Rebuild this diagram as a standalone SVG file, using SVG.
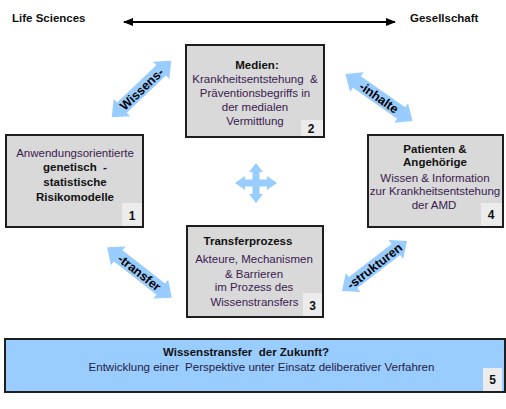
<svg xmlns="http://www.w3.org/2000/svg" width="506" height="409" viewBox="0 0 506 409">
<style>
text{font-family:"Liberation Sans",Arial,sans-serif;}
.box{fill:#d9d9d9;stroke:#1e1e1e;stroke-width:2;}
.box5{fill:#99ccff;stroke:#1e1e1e;stroke-width:2;}
.badge{fill:#ececec;}
.t{font-size:11.5px;font-weight:bold;fill:#111;text-anchor:middle;}
.b{font-size:11.5px;fill:#3a2050;text-anchor:middle;}
.n{font-size:12px;font-weight:bold;fill:#111;text-anchor:middle;}
.arr{fill:#99ccff;}
.al{font-size:12.5px;font-weight:bold;fill:#000;text-anchor:middle;}
.hdr{font-size:11.5px;font-weight:bold;fill:#111;}
</style>
<defs>
<path id="dbl" d="M -41 0 L -27 -12 L -27 -7 L 27 -7 L 27 -12 L 41 0 L 27 12 L 27 7 L -27 7 L -27 12 Z"/>
<marker id="ah" viewBox="0 0 10 8" refX="9" refY="4" markerWidth="5" markerHeight="4" orient="auto-start-reverse" markerUnits="strokeWidth">
<path d="M0 0 L10 4 L0 8 Z" fill="#000"/>
</marker>
</defs>

<g id="header">
<text class="hdr" x="12" y="22">Life Sciences</text>
<text class="hdr" x="410" y="22">Gesellschaft</text>
</g>

<g id="connectors">
<line x1="124" y1="22" x2="395" y2="22" stroke="#000" stroke-width="2" marker-start="url(#ah)" marker-end="url(#ah)"/>
<g transform="translate(141.5,89) rotate(-43.5)">
<use href="#dbl" class="arr"/>
<text class="al" x="0" y="4.5">Wissens-</text>
</g>
<g transform="translate(379,97.5) rotate(35)">
<use href="#dbl" class="arr"/>
<text class="al" x="0" y="4.5">-inhalte</text>
</g>
<g transform="translate(139.5,272.5) rotate(38)">
<use href="#dbl" class="arr"/>
<text class="al" x="0" y="4.5">-transfer</text>
</g>
<g transform="translate(374.5,266) rotate(-37.6)">
<use href="#dbl" class="arr"/>
<text class="al" x="0" y="4.5">-strukturen</text>
</g>
<path class="arr" transform="translate(256,183)" d="M 0 -20 L 7 -11 L 3.5 -11 L 3.5 -3.5 L 11 -3.5 L 11 -7 L 21 0 L 11 7 L 11 3.5 L 3.5 3.5 L 3.5 11 L 7 11 L 0 20 L -7 11 L -3.5 11 L -3.5 3.5 L -11 3.5 L -11 7 L -21 0 L -11 -7 L -11 -3.5 L -3.5 -3.5 L -3.5 -11 L -7 -11 Z"/>
</g>

<g id="node1">
<rect class="box" x="6" y="135" width="137" height="92"/>
<rect class="badge" x="122" y="203" width="20" height="23"/>
<text class="b" x="75" y="157">Anwendungsorientierte</text>
<text class="t" x="75" y="171">genetisch &#160;-</text>
<text class="t" x="75" y="186">statistische</text>
<text class="t" x="75" y="200.5">Risikomodelle</text>
<text class="n" x="132" y="220">1</text>
</g>

<g id="node2">
<rect class="box" x="186" y="45" width="138" height="92"/>
<rect class="badge" x="301" y="120" width="22" height="16"/>
<text class="t" x="257" y="68.5">Medien:</text>
<text class="b" x="255" y="82.5">Krankheitsentstehung &#160;&amp;</text>
<text class="b" x="255" y="96.5">Präventionsbegriffs in</text>
<text class="b" x="255" y="110.5">der medialen</text>
<text class="b" x="255" y="124.5">Vermittlung</text>
<text class="n" x="311" y="133">2</text>
</g>

<g id="node3">
<rect class="box" x="187" y="226" width="136" height="91"/>
<rect class="badge" x="303" y="293" width="19" height="23"/>
<text class="t" x="248" y="244.5">Transferprozess</text>
<text class="b" x="254" y="262.5">Akteure, Mechanismen</text>
<text class="b" x="254" y="277.5">&amp; Barrieren</text>
<text class="b" x="254" y="291">im Prozess des</text>
<text class="b" x="254.5" y="305.5">Wissenstransfers</text>
<text class="n" x="312.5" y="310">3</text>
</g>

<g id="node4">
<rect class="box" x="368" y="135" width="135" height="92"/>
<rect class="badge" x="481" y="203" width="21" height="23"/>
<text class="t" x="435" y="152.5">Patienten &amp;</text>
<text class="t" x="435" y="165.5">Angehörige</text>
<text class="b" x="435" y="181.5">Wissen &amp; Information</text>
<text class="b" x="435" y="195">zur Krankheitsentstehung</text>
<text class="b" x="434" y="209">der AMD</text>
<text class="n" x="491" y="219">4</text>
</g>

<g id="node5">
<rect class="box5" x="5" y="339" width="500" height="53"/>
<rect class="badge" x="483" y="368" width="19" height="23"/>
<text class="t" x="246" y="356">Wissenstransfer &#160;der Zukunft?</text>
<text class="b" x="261.5" y="370.5" style="fill:#262040">Entwicklung einer &#160;Perspektive unter Einsatz deliberativer Verfahren</text>
<text class="n" x="492.5" y="384">5</text>
</g>
</svg>
